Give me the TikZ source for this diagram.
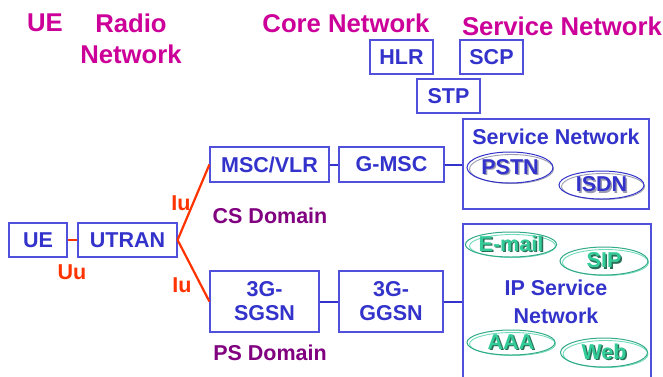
\documentclass[tikz,border=0pt]{standalone}
\usepackage{fontspec}
\setmainfont{Liberation Sans}
\usetikzlibrary{shapes.geometric}
\definecolor{mag}{HTML}{CC0099}
\definecolor{bl}{HTML}{3333CC}
\definecolor{bbord}{HTML}{5050DD}
\definecolor{rd}{HTML}{FF3300}
\definecolor{pur}{HTML}{800080}
\definecolor{grn}{HTML}{33CC99}
\definecolor{dgrn}{HTML}{2A6E58}
\definecolor{tealb}{HTML}{33AA88}
\definecolor{shgray}{HTML}{9A9AB0}
\newcommand\shtxt[3]{\makebox[0pt][l]{\hspace{1.5pt}\raisebox{-1.5pt}{\textcolor{#2}{#3}}}\textcolor{#1}{#3}}
\begin{document}
\begin{tikzpicture}[x=1pt,y=-1pt,
  hdr/.style={text=mag, font=\fontsize{25.7}{31}\selectfont\bfseries, inner sep=0pt, align=center},
  box/.style={draw=bbord, line width=1.2pt, text=bl, font=\fontsize{21.5}{24}\selectfont\bfseries, inner sep=0pt, align=center},
  lbl/.style={font=\fontsize{21.5}{24}\selectfont\bfseries, inner sep=0pt},
  redline/.style={draw=rd, line width=2.2pt},
  blueline/.style={draw=bl, line width=2pt},
  bell/.style={ellipse, draw=bl, line width=1pt, inner sep=0pt, font=\fontsize{21.5}{24}\selectfont\bfseries},
  gell/.style={ellipse, draw=tealb, line width=1pt, inner sep=0pt, font=\fontsize{21.5}{24}\selectfont\bfseries},
  bshadow/.style={draw=shgray, line width=0.9pt},
  gshadow/.style={draw=grn!70!white, line width=0.9pt}
]
\useasboundingbox (0,0) rectangle (663,376);

% headers
\node[hdr] (hue) at (45,23) {UE};
\node[hdr] (hradio) at (131,38.5) {Radio\\Network};
\node[hdr] (hcore) at (346,23.5) {Core Network};
\node[hdr] (hserv) at (562,26) {Service Network};

% core boxes
\node[box, minimum width=63pt, minimum height=34pt] (hlr) at (401.5,57) {HLR};
\node[box, minimum width=63pt, minimum height=34pt] (scp) at (491.5,57) {SCP};
\node[box, minimum width=63pt, minimum height=34pt] (stp) at (448.5,96) {STP};

\node[box, minimum width=119pt, minimum height=35pt] (msc) at (269.5,164.5) {MSC/VLR};
\node[box, minimum width=105pt, minimum height=35pt] (gmsc) at (391.5,164.5) {G-MSC};

\node[box, minimum width=58pt, minimum height=34pt] (ue) at (38,240) {UE};
\node[box, minimum width=99pt, minimum height=34pt] (utran) at (127.5,240) {UTRAN};

\node[box, minimum width=109pt, minimum height=61pt] (sgsn) at (264.5,301.5) {3G-\\SGSN};
\node[box, minimum width=104pt, minimum height=61pt] (ggsn) at (391,301.5) {3G-\\GGSN};

% service network boxes
\node[box, minimum width=186pt, minimum height=90pt] (sn) at (556,164) {};
\node[lbl, text=bl] (sntitle) at (556,137) {Service Network};
\node[box, minimum width=188pt, minimum height=161pt] (ipsn) at (557,304.5) {};
\node[lbl, text=bl, align=center, font=\fontsize{21.5}{28}\selectfont\bfseries] (iptitle) at (556,302) {IP Service\\Network};

% ellipses (shadows first)
\draw[bshadow] (511.5,169) ellipse (42 and 14.5);
\node[bell, minimum width=86pt, minimum height=31pt] (pstn) at (510,167.5) {\shtxt{bl}{shgray}{PSTN}};
\draw[bshadow] (603,186.5) ellipse (41.5 and 13);
\node[bell, minimum width=85pt, minimum height=28pt] (isdn) at (601.5,185) {\shtxt{bl}{shgray}{ISDN}};

\draw[gshadow] (512.5,246) ellipse (43 and 11.5);
\node[gell, minimum width=88pt, minimum height=25pt] (email) at (511,244.5) {\shtxt{grn}{dgrn}{E-mail}};
\draw[gshadow] (605.5,262.5) ellipse (43 and 13);
\node[gell, minimum width=88pt, minimum height=28pt] (sip) at (604,261) {\shtxt{grn}{dgrn}{SIP}};
\draw[gshadow] (512.5,344) ellipse (43 and 11.5);
\node[gell, minimum width=88pt, minimum height=25pt] (aaa) at (511,342.5) {\shtxt{grn}{dgrn}{AAA}};
\draw[gshadow] (605.5,354) ellipse (42.5 and 13.5);
\node[gell, minimum width=87pt, minimum height=29pt] (web) at (604,352.5) {\shtxt{grn}{dgrn}{Web}};

% connectors
\draw[redline] (ue.east) -- (utran.west);
\draw[redline] (utran.east) -- (msc.west);
\draw[redline] (utran.east) -- (sgsn.west);
\draw[blueline] (msc.east) -- (gmsc.west);
\draw[blueline] (gmsc.east) -- (gmsc.east -| sn.west);
\draw[blueline] (sgsn.east) -- (ggsn.west);
\draw[blueline] (ggsn.east) -- (ggsn.east -| ipsn.west);

% labels
\node[lbl, text=rd] (uu) at (72,272) {Uu};
\node[lbl, text=rd] (iu1) at (181,203) {Iu};
\node[lbl, text=rd] (iu2) at (182,285) {Iu};
\node[lbl, text=pur] (cs) at (270,216) {CS Domain};
\node[lbl, text=pur] (ps) at (270,353) {PS Domain};
\end{tikzpicture}
\end{document}
